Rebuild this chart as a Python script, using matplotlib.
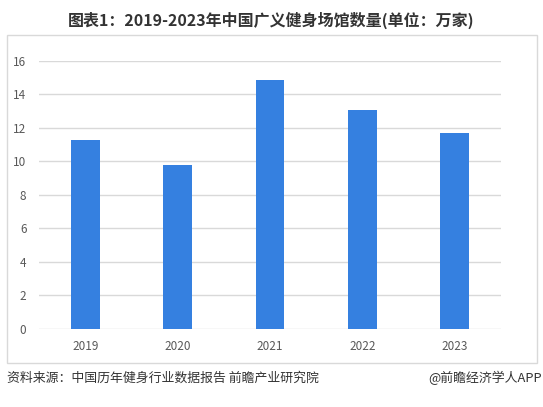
import matplotlib.pyplot as plt
from matplotlib.patches import Rectangle

# 2019-2023 China gym count (unit: 10k)
years = ["2019", "2020", "2021", "2022", "2023"]
gyms = [11.27, 9.78, 14.85, 13.06, 11.69]
yticks = [0, 2, 4, 6, 8, 10, 12, 14, 16]

plt.rcParams['font.family'] = ['Noto Sans CJK SC', 'DejaVu Sans']

fig = plt.figure(figsize=(5.43, 4.07), dpi=100)
ax = fig.add_axes([39/543, 1 - 328.8/407, 462/543, (328.8 - 61)/407])

ax.bar(range(len(years)), gyms, width=0.31, color='#3580E0', zorder=3)
ax.set_xlim(-0.5, len(years) - 0.5)
ax.set_ylim(0, 16)
ax.set_yticks(yticks)
ax.set_xticks(range(len(years)))
ax.set_xticklabels(years)
ax.grid(axis='y', color='#d9d9d9', linewidth=1, zorder=0)
for s in ax.spines.values():
    s.set_visible(False)
ax.tick_params(length=0, labelsize=8.5, colors='#595959', pad=8)
ax.tick_params(axis='y', pad=9)

# outer frame round the chart
fig.patches.append(Rectangle((7/543, 1 - 363/407), 530/543, (363 - 35)/407,
                             transform=fig.transFigure, fill=False,
                             edgecolor='#d9d9d9', linewidth=1))

fig.text(0.5, 1 - 20/407, "图表1：2019-2023年中国广义健身场馆数量(单位：万家)",
         ha='center', va='center', fontsize=11.5, fontweight='bold', color='#333333')
fig.text(7/543, 1 - 378/407, "资料来源：中国历年健身行业数据报告 前瞻产业研究院",
         ha='left', va='center', fontsize=9.3, color='#333333')
fig.text(542/543, 1 - 378/407, "@前瞻经济学人APP",
         ha='right', va='center', fontsize=9.3, color='#333333')

fig.savefig("out.png", dpi=100)
